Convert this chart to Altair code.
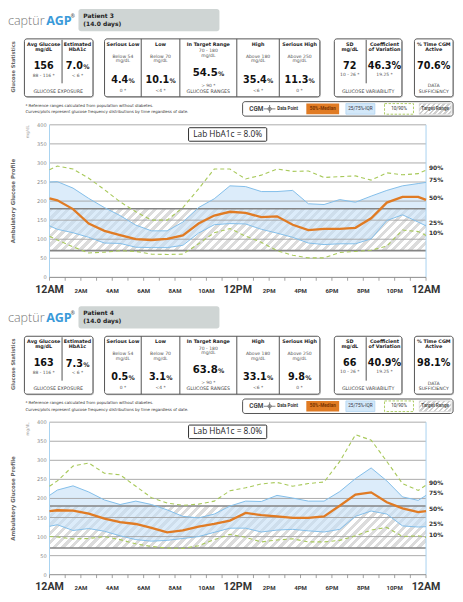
import altair as alt
import pandas as pd

# ------------------------------------------------------------------ data
patients = ["Patient 3", "Patient 4"]
period_days = ["(14.0 days)", "(14.0 days)"]
avg_glucose = ["156", "163"]
avg_ref = ["88 - 116 *", "88 - 116 *"]
est_hba1c = ["7.0", "7.3"]
serious_low = ["4.4", "0.5"]
low = ["10.1", "3.1"]
in_target = ["54.5", "63.8"]
high = ["35.4", "33.1"]
serious_high = ["11.3", "9.8"]
sd_mgdl = ["72", "66"]
coef_var = ["46.3%", "40.9%"]
time_active = ["70.6%", "98.1%"]
lab_hba1c = ["8.0%", "8.0%"]

hours = [0, 0.5, 1.5, 2.5, 3.5, 4.5, 5.5, 6.5, 7.5, 8.5, 9.5, 10.5, 11.5,
         12.5, 13.5, 14.5, 15.5, 16.5, 17.5, 18.5, 19.5, 20.5, 21.5, 22.5, 23.5, 24]

p3_p10 = [108, 98, 80, 64, 66, 70, 68, 61, 60, 61, 88, 117, 128, 108, 92, 70, 58, 51, 51, 65, 68, 71, 82, 124, 120, 110]
p3_p25 = [135, 126, 117, 105, 90, 89, 79, 78, 78, 84, 116, 138, 141, 140, 126, 116, 105, 90, 86, 88, 88, 101, 149, 164, 145, 135]
p3_p50 = [207, 202, 179, 141, 122, 111, 100, 98, 101, 110, 141, 162, 172, 169, 158, 160, 138, 124, 127, 127, 130, 155, 196, 211, 211, 203]
p3_p75 = [250, 251, 234, 207, 183, 162, 137, 122, 122, 145, 183, 206, 240, 238, 225, 225, 228, 193, 191, 204, 197, 213, 228, 240, 246, 249]
p3_p90 = [282, 292, 284, 260, 230, 198, 172, 150, 150, 183, 232, 284, 284, 258, 268, 284, 278, 279, 262, 264, 266, 255, 274, 269, 272, 281]

p4_p10 = [100, 99, 94, 95, 100, 92, 81, 74, 70, 69, 76, 92, 106, 98, 86, 91, 94, 86, 86, 90, 102, 117, 124, 100, 102, 98]
p4_p25 = [127, 131, 116, 121, 114, 102, 92, 88, 90, 95, 100, 111, 122, 122, 112, 117, 119, 115, 112, 119, 153, 167, 159, 128, 125, 126]
p4_p50 = [167, 169, 168, 160, 147, 138, 133, 123, 111, 116, 126, 133, 142, 162, 156, 153, 149, 149, 153, 181, 210, 216, 190, 174, 164, 167]
p4_p75 = [208, 222, 233, 217, 196, 184, 193, 184, 170, 153, 149, 159, 180, 193, 192, 208, 201, 193, 193, 218, 252, 280, 246, 204, 195, 208]
p4_p90 = [232, 246, 285, 293, 266, 262, 232, 202, 188, 182, 185, 193, 220, 228, 238, 242, 232, 239, 243, 297, 367, 353, 297, 239, 221, 235]

target_range = [70, 180]
grid_values = [50, 100, 150, 200, 250, 300, 350, 400]
y_tick_values = [0, 50, 100, 150, 200, 250, 300, 350, 400]
tick_hours = list(range(25))
label_hours = [0, 2, 4, 6, 8, 10, 12, 14, 16, 18, 20, 22, 24]
hour_labels = ["12AM", "2AM", "4AM", "6AM", "8AM", "10AM", "12PM",
               "2PM", "4PM", "6PM", "8PM", "10PM", "12AM"]
pct_labels = ["90%", "75%", "50%", "25%", "10%"]

series = [
    (p3_p10, p3_p25, p3_p50, p3_p75, p3_p90),
    (p4_p10, p4_p25, p4_p50, p4_p75, p4_p90),
]

# ------------------------------------------------------------------ layout helpers
S = 447 / 463.0
SEC = 308
F = "DejaVu Sans"


def px(x):
    return round(x * S, 2)


def py(y, k):
    return round((y + SEC * k) * S, 2)


texts, rects, rules = [], [], []


def T(k, x, y, text, size, style, color="#333"):
    texts.append(dict(x=px(x), y=py(y, k), text=str(text), size=round(size * S, 2),
                      color=color, style=style))


def R(k, x1, y1, x2, y2, fill, stroke="transparent", sw=1.0, style="round"):
    rects.append(dict(x=px(x1), x2=px(x2), y=py(y1, k), y2=py(y2, k), fill=fill,
                      stroke=stroke, sw=sw, style=style))


def L(k, x1, y1, x2, y2, color="#555", sw=1.0):
    rules.append(dict(x=px(x1), x2=px(x2), y=py(y1, k), y2=py(y2, k), color=color, sw=sw))


CW = {".": 0.38, "%": 1.002}


def big(k, cx, cy, num, fs=10.0, fsp=6.5):
    base = cy + 0.365 * fs
    wn = sum(CW.get(c, 0.696) for c in num) * fs
    wp = 1.002 * fsp
    split = cx - (wn + wp) / 2 + wn
    T(k, split, base, num, fs, "b_r_a", "#111")
    T(k, split + 0.3, base, "%", fsp, "b_l_a", "#111")


def hatch(W, H, period, c1="#dcdcdc", c2="#ffffff"):
    b = H / W
    kk = (1 + b) / (1 + b * b)
    half = period / 2.0
    total = W + H
    n = int(total / half) + 1
    stops = []
    for i in range(n):
        t0 = min(i * half / total, 1.0)
        t1 = min((i + 1) * half / total, 1.0)
        c = c1 if i % 2 == 0 else c2
        stops.append({"offset": round(t0, 5), "color": c})
        stops.append({"offset": round(t1, 5), "color": c})
    return {"gradient": "linear", "x1": 0, "y1": 0, "x2": round(kk, 5),
            "y2": round(kk * b, 5), "stops": stops}


# ------------------------------------------------------------------ header / boxes content
for k in range(2):
    # logo + patient banner
    T(k, 0, 17.5, "captür", 13, "logo_l", "#777")
    T(k, 39.5, 17.5, "AGP", 13, "logo_b", "#3a9ad9")
    T(k, 65, 10.5, "®", 5, "logo_b", "#555")
    R(k, 73, 1, 219, 24, "#cfd5d4")
    T(k, 78, 8, patients[k], 6.2, "b_l", "#222")
    T(k, 78, 16.5, period_days[k], 6.2, "b_l", "#222")
    T(k, 5, 61, "Glucose Statistics", 5.3, "rot_b", "#666")

    for (x1, x2) in [(17, 88), (100, 323), (338, 408), (421, 461)]:
        R(k, x1 + 1, 33, x2 + 1, 93, "#c4c4c4")
        R(k, x1, 32, x2, 92, "white", "#555", 1.0)
    L(k, 56, 33, 56, 78)
    for xd in [138, 178, 237, 281]:
        L(k, xd, 32, xd, 92)
    L(k, 371, 33, 371, 78)

    # glucose exposure
    T(k, 37, 38, "Avg Glucose", 5.0, "b_c", "#222")
    T(k, 37, 43, "mg/dL", 5.0, "b_c", "#222")
    T(k, 37, 63.3, avg_glucose[k], 10, "b_c_a", "#111")
    T(k, 37, 70.3, avg_ref[k], 4.6, "n_c", "#555")
    T(k, 72, 38, "Estimated", 5.0, "b_c", "#222")
    T(k, 72, 43, "HbA1c", 5.0, "b_c", "#222")
    big(k, 72, 59.7, est_hba1c[k])
    T(k, 72, 70.3, "< 6 *", 4.6, "n_c", "#555")
    T(k, 52, 86.7, "GLUCOSE EXPOSURE", 4.9, "n_c", "#444")

    # glucose ranges
    cols = [(119, "Serious Low", "Below 54", serious_low[k], "0 *"),
            (158, "Low", "Below 70", low[k], "<4 *"),
            (259, "High", "Above 180", high[k], "<6 *"),
            (302, "Serious High", "Above 250", serious_high[k], "0 *")]
    for cx, ttl, sub, val, ref in cols:
        T(k, cx, 38, ttl, 5.0, "b_c", "#222")
        T(k, cx, 50.5, sub, 4.7, "n_c", "#555")
        T(k, cx, 55.2, "mg/dL", 4.7, "n_c", "#555")
        big(k, cx, 73.7, val)
        T(k, cx, 86, ref, 4.6, "n_c", "#555")
    T(k, 207.5, 38, "In Target Range", 5.0, "b_c", "#222")
    T(k, 207.5, 44.8, "70 - 180", 4.7, "n_c", "#555")
    T(k, 207.5, 49.5, "mg/dL", 4.7, "n_c", "#555")
    big(k, 207.5, 66.5, in_target[k], fs=10.5)
    T(k, 207.5, 80.3, "> 90 *", 4.6, "n_c", "#555")
    T(k, 207.5, 86.5, "GLUCOSE RANGES", 4.9, "n_c", "#444")

    # variability
    T(k, 354, 38, "SD", 5.0, "b_c", "#222")
    T(k, 354, 43, "mg/dL", 5.0, "b_c", "#222")
    T(k, 354, 63.0, sd_mgdl[k], 10, "b_c_a", "#111")
    T(k, 354, 69.5, "10 - 26 *", 4.6, "n_c", "#555")
    T(k, 390, 38, "Coefficient", 5.0, "b_c", "#222")
    T(k, 390, 43, "of Variation", 5.0, "b_c", "#222")
    T(k, 390, 63.0, coef_var[k], 10, "b_c_a", "#111")
    T(k, 390, 69.5, "19.25 *", 4.6, "n_c", "#555")
    T(k, 373, 86.7, "GLUCOSE VARIABILITY", 4.9, "n_c", "#444")

    # sufficiency
    T(k, 441, 38, "% Time CGM", 5.0, "b_c", "#222")
    T(k, 441, 43, "Active", 5.0, "b_c", "#222")
    T(k, 441, 63.0, time_active[k], 10, "b_c_a", "#111")
    T(k, 441, 81, "DATA", 4.8, "n_c", "#444")
    T(k, 441, 87, "SUFFICIENCY", 4.8, "n_c", "#444")

    # footnotes
    T(k, 18, 101, "* Reference ranges calculated from population without diabetes.", 4.1, "n_l", "#333")
    T(k, 18, 108, "Curves/plots represent glucose frequency distributions by time regardless of date.", 4.1, "n_l", "#333")

    # legend
    R(k, 243, 97, 461, 112, "white", "#555", 1.0)
    T(k, 250, 104.5, "CGM", 6.6, "rb_l", "#444")
    L(k, 265, 104.5, 277, 104.5, "#666", 0.8)
    L(k, 271, 100.5, 271, 108.5, "#666", 0.8)
    T(k, 279, 104.5, "Data Point", 4.6, "rb_l", "#333")
    R(k, 309, 99, 343, 110, "#e07b24", "transparent", 0, "plain")
    T(k, 326, 104.5, "50%-Median", 4.8, "rb_c", "#7a3300")
    R(k, 350, 99, 380, 110, "#d3e8f9", "#b3d6f2", 0.8, "plain")
    T(k, 365, 104.5, "25/75%-IQR", 4.8, "r_c", "#334")
    R(k, 390, 99, 420, 110, "white", "#a8c95a", 0.9, "dash")
    T(k, 405, 104.5, "10/90%", 4.8, "r_c", "#333")
    T(k, 442.5, 104.5, "Target Range", 4.8, "rb_c", "#555")

    # plot decorations
    T(k, 21, 128, "mg/dL", 4.3, "rot_n", "#999")
    T(k, 5, 200, "Ambulatory Glucose Profile", 5.7, "rot_b", "#666")
    T(k, 227.5, 131.2, "Lab HbA1c = " + lab_hba1c[k], 8.6, "lab", "#222")

tdf = pd.DataFrame(texts)
rdf = pd.DataFrame(rects)
ldf = pd.DataFrame(rules)

PIXX = alt.X("x:Q", scale=None, axis=None)
PIXY = alt.Y("y:Q", scale=None, axis=None)


def rect_layer(df, **mark):
    return alt.Chart(df).mark_rect(**mark).encode(
        x=PIXX, x2="x2:Q", y=PIXY, y2="y2:Q",
        fill=alt.Fill("fill:N", scale=None, legend=None),
        stroke=alt.Stroke("stroke:N", scale=None, legend=None),
        strokeWidth=alt.StrokeWidth("sw:Q", scale=None, legend=None))


layers = []
# box shadows, boxes, banners
layers.append(rect_layer(rdf[rdf["style"] == "round"], cornerRadius=2.5))
layers.append(rect_layer(rdf[rdf["style"] == "plain"]))
layers.append(rect_layer(rdf[rdf["style"] == "dash"], strokeDash=[2.5, 1.5]))

# ------------------------------------------------------------------ plots
for k in range(2):
    p10, p25, p50, p75, p90 = series[k]
    df = pd.DataFrame(dict(hour=hours, p10=p10, p25=p25, p50=p50, p75=p75, p90=p90))
    xs = alt.Scale(domain=[0, 24], range=[px(43), px(433)], nice=False, zero=False)
    ys = alt.Scale(domain=[0, 400], range=[py(279, k), py(121, k)], nice=False, zero=False)

    def X(f="hour"):
        return alt.X(f + ":Q", scale=xs, axis=None)

    def Y(f):
        return alt.Y(f + ":Q", scale=ys, axis=None)

    band = pd.DataFrame({"lo": [target_range[0]], "hi": [target_range[1]]})
    W = 390.0
    H = (target_range[1] - target_range[0]) * 158.0 / 400.0
    layers.append(alt.Chart(band).mark_rect(fill=hatch(W, H, 9.0)).encode(
        x=alt.value(px(43)), x2=alt.value(px(433)), y=Y("hi"), y2="lo:Q"))

    # legend target-range swatch
    sw = pd.DataFrame({"x": [px(426)], "x2": [px(459)], "y": [py(99, k)], "y2": [py(110, k)]})
    layers.append(alt.Chart(sw).mark_rect(fill=hatch(33, 11, 5.0, "#cfcfcf"), stroke="#d0d0d0",
                                          strokeWidth=0.6).encode(x=PIXX, x2="x2:Q", y=PIXY, y2="y2:Q"))

    layers.append(alt.Chart(df).mark_area(color="#c4e0f6", opacity=0.6).encode(
        x=X(), y=Y("p25"), y2="p75:Q"))

    gdf = pd.DataFrame({"v": grid_values})
    layers.append(alt.Chart(gdf).mark_rule(color="#a3a3a3", strokeWidth=0.9).encode(
        y=Y("v"), x=alt.value(px(43)), x2=alt.value(px(433))))
    tdf2 = pd.DataFrame({"v": target_range})
    layers.append(alt.Chart(tdf2).mark_rule(color="#858585", strokeWidth=1.6).encode(
        y=Y("v"), x=alt.value(px(43)), x2=alt.value(px(433))))
    edges = pd.DataFrame({"h": [0, 24]})
    layers.append(alt.Chart(edges).mark_rule(color="#a9d3f0", strokeWidth=1).encode(
        x=X("h"), y=alt.value(py(121, k)), y2=alt.value(py(279, k))))
    zdf = pd.DataFrame({"v": [0]})
    layers.append(alt.Chart(zdf).mark_rule(color="#8c8c8c", strokeWidth=1).encode(
        y=Y("v"), x=alt.value(px(43)), x2=alt.value(px(433))))
    th = pd.DataFrame({"h": tick_hours})
    layers.append(alt.Chart(th).mark_rule(color="#8c8c8c", strokeWidth=0.8).encode(
        x=X("h"), y=alt.value(py(279, k)), y2=alt.value(py(282.5, k))))

    for f in ["p25", "p75"]:
        layers.append(alt.Chart(df).mark_line(color="#84bfea", strokeWidth=1).encode(x=X(), y=Y(f)))
    for f in ["p10", "p90"]:
        layers.append(alt.Chart(df).mark_line(color="#a8c95a", strokeWidth=1.1,
                                              strokeDash=[4, 3]).encode(x=X(), y=Y(f)))
    layers.append(alt.Chart(df).mark_line(color="#e07b24", strokeWidth=2.3).encode(x=X(), y=Y("p50")))

    ends = pd.DataFrame({"lab": pct_labels, "v": [p90[-1], p75[-1], p50[-1], p25[-1], p10[-1]]})
    layers.append(alt.Chart(ends).mark_text(font=F, fontWeight="bold", fontSize=6.2 * S, align="left",
                                            baseline="middle", dy=-2.5 * S, color="#333").encode(
        x=alt.value(px(436)), y=Y("v"), text="lab:N"))

    ydf = pd.DataFrame({"v": y_tick_values, "lab": [str(v) for v in y_tick_values]})
    layers.append(alt.Chart(ydf).mark_text(font=F, fontSize=5.2 * S, align="right", baseline="middle",
                                           color="#8a8a8a").encode(
        x=alt.value(px(40)), y=Y("v"), text="lab:N"))

    xl = pd.DataFrame({"h": label_hours, "lab": hour_labels})
    xl["big"] = [h % 12 == 0 for h in label_hours]
    layers.append(alt.Chart(xl[xl["big"]]).mark_text(font="Roboto", fontWeight="bold", fontSize=11 * S,
                                                       align="center", baseline="alphabetic",
                                                       color="#333").encode(
        x=X("h"), y=alt.value(py(295, k)), text="lab:N"))
    layers.append(alt.Chart(xl[~xl["big"]]).mark_text(font="Roboto", fontWeight="bold", fontSize=6.3 * S,
                                                        align="center", baseline="alphabetic",
                                                        color="#333").encode(
        x=X("h"), y=alt.value(py(295, k)), text="lab:N"))

    # Lab HbA1c box
    lb = pd.DataFrame({"x": [px(187)], "x2": [px(268)], "y": [py(124, k)], "y2": [py(138, k)]})
    layers.append(alt.Chart(lb).mark_rect(fill="white", stroke="#333", strokeWidth=1, cornerRadius=1).encode(
        x=PIXX, x2="x2:Q", y=PIXY, y2="y2:Q"))

    # data point symbol in legend
    dp = pd.DataFrame({"x": [px(271)], "y": [py(104.5, k)]})
    layers.append(alt.Chart(dp).mark_point(shape="circle", size=11, filled=True, fill="white",
                                           stroke="#666", strokeWidth=0.8, opacity=1).encode(x=PIXX, y=PIXY))

# rules (box dividers, legend symbol)
layers.append(alt.Chart(ldf).mark_rule().encode(
    x=PIXX, x2="x2:Q", y=PIXY, y2="y2:Q",
    color=alt.Color("color:N", scale=None, legend=None),
    strokeWidth=alt.StrokeWidth("sw:Q", scale=None, legend=None)))

# texts
STY = {
    "b_c": dict(font=F, fontWeight="bold", align="center", baseline="middle"),
    "n_c": dict(font=F, fontWeight="normal", align="center", baseline="middle"),
    "b_l": dict(font=F, fontWeight="bold", align="left", baseline="middle"),
    "n_l": dict(font=F, fontWeight="normal", align="left", baseline="middle"),
    "b_c_a": dict(font=F, fontWeight="bold", align="center", baseline="alphabetic"),
    "b_r_a": dict(font=F, fontWeight="bold", align="right", baseline="alphabetic"),
    "b_l_a": dict(font=F, fontWeight="bold", align="left", baseline="alphabetic"),
    "rot_b": dict(font=F, fontWeight="bold", align="center", baseline="middle", angle=270),
    "rot_n": dict(font=F, fontWeight="normal", align="center", baseline="middle", angle=270),
    "logo_l": dict(font="Open Sans", fontWeight=300, align="left", baseline="alphabetic"),
    "logo_b": dict(font="Open Sans", fontWeight="bold", align="left", baseline="alphabetic"),
    "lab": dict(font="Open Sans", fontWeight="normal", align="center", baseline="middle"),
    "rb_l": dict(font="Roboto", fontWeight="bold", align="left", baseline="middle"),
    "rb_c": dict(font="Roboto", fontWeight="bold", align="center", baseline="middle"),
    "r_c": dict(font="Roboto", fontWeight="normal", align="center", baseline="middle"),
}
for sty, props in STY.items():
    sub = tdf[tdf["style"] == sty]
    if len(sub) == 0:
        continue
    layers.append(alt.Chart(sub).mark_text(**props).encode(
        x=PIXX, y=PIXY, text=alt.Text("text:N"),
        size=alt.Size("size:Q", scale=None, legend=None),
        color=alt.Color("color:N", scale=None, legend=None)))

chart = alt.layer(*layers).resolve_scale(
    x="independent", y="independent", color="independent", size="independent",
    fill="independent", stroke="independent", strokeWidth="independent"
).properties(
    width=447, height=586, padding=0, background="white",
    autosize=alt.AutoSizeParams(type="none")
).configure_view(stroke=None)

chart.save("out.html", embed_options={"renderer": "svg", "actions": False})
